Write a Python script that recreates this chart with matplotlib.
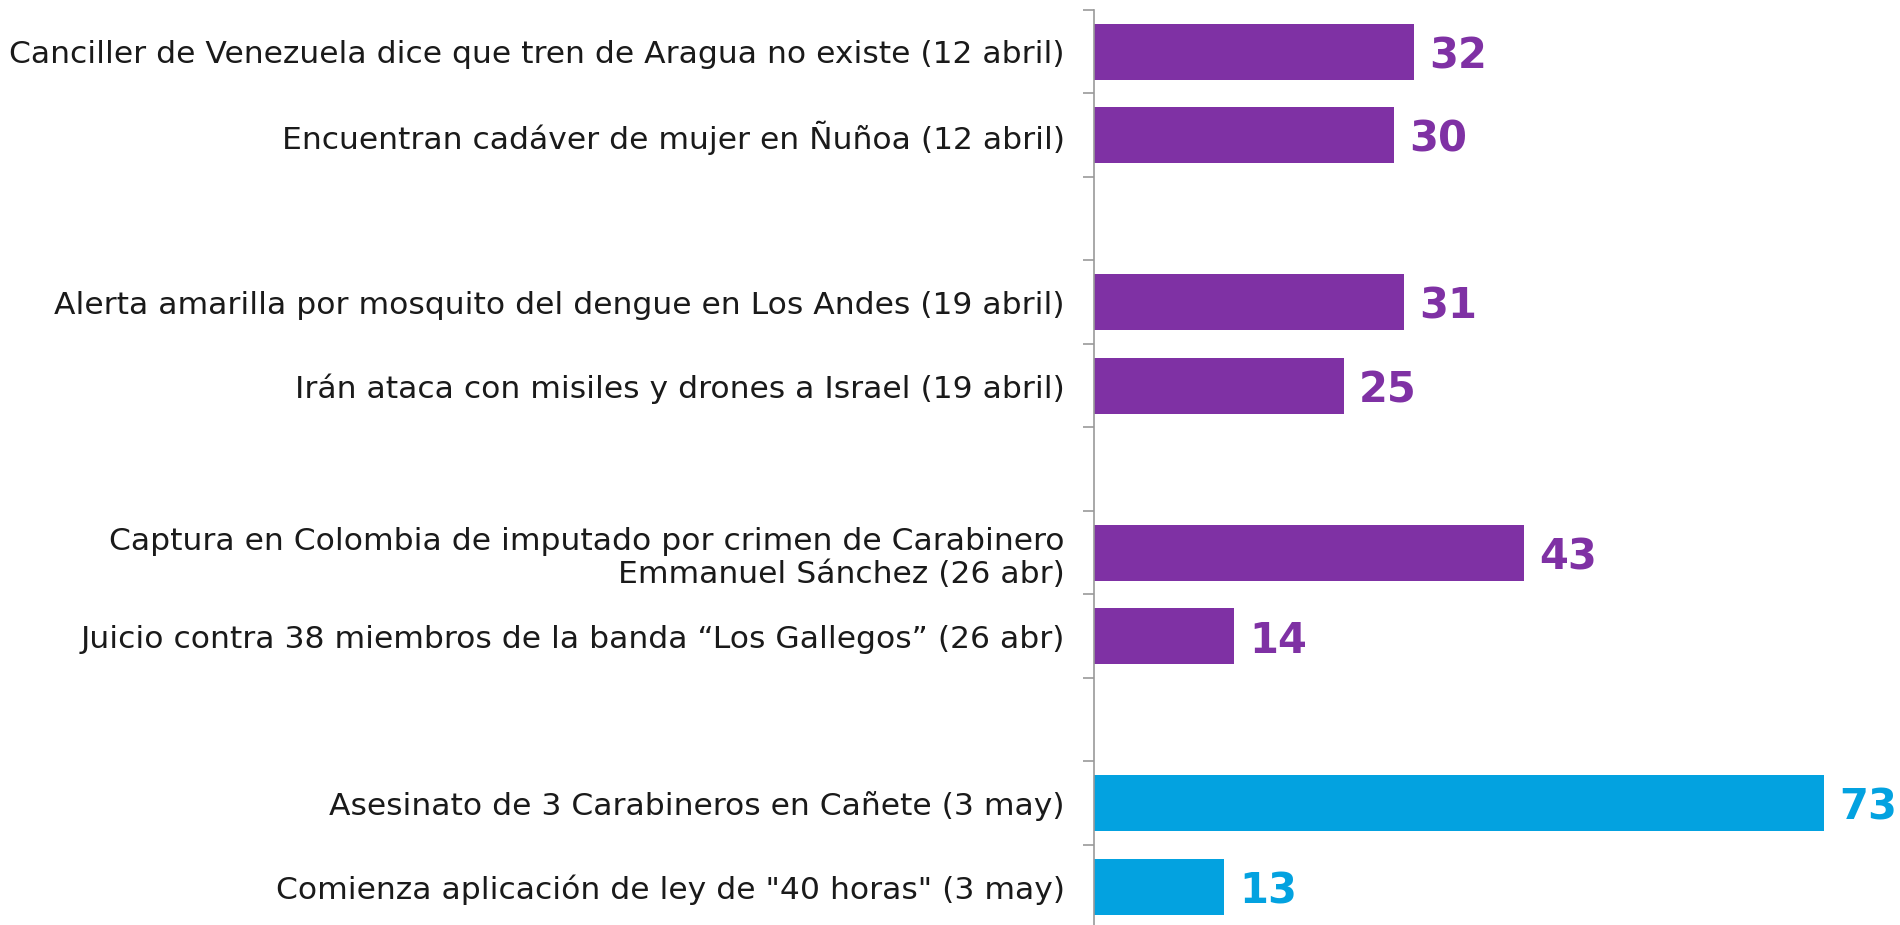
import numpy as np
import matplotlib
matplotlib.use("Agg")
import matplotlib.pyplot as plt

# Categories (top to bottom), None marks the blank spacer rows between weeks
labels = [
    'Canciller de Venezuela dice que tren de Aragua no existe (12 abril)',
    'Encuentran cadáver de mujer en Ñuñoa (12 abril)',
    None,
    'Alerta amarilla por mosquito del dengue en Los Andes (19 abril)',
    'Irán ataca con misiles y drones a Israel (19 abril)',
    None,
    'Captura en Colombia de imputado por crimen de Carabinero\nEmmanuel Sánchez (26 abr)',
    'Juicio contra 38 miembros de la banda “Los Gallegos” (26 abr)',
    None,
    'Asesinato de 3 Carabineros en Cañete (3 may)',
    'Comienza aplicación de ley de "40 horas" (3 may)',
]
values = [32, 30, None, 31, 25, None, 43, 14, None, 73, 13]
highlight = [False, False, None, False, False, None, False, False, None, True, True]

PURPLE = '#7F31A4'
BLUE = '#03A2E0'
TEXT = '#1a1a1a'
FONT = 'DejaVu Sans'

W, H = 1900, 925
fig = plt.figure(figsize=(W / 100, H / 100), dpi=100)
ax_left = 1094 / W
ax_top = 10 / H
ax = fig.add_axes([ax_left, 0, 1 - ax_left, 1 - ax_top])

pos = np.arange(len(labels))
for y, v, hl in zip(pos, values, highlight):
    if v is None:
        continue
    c = BLUE if hl else PURPLE
    ax.barh(y, v, height=0.67, color=c, edgecolor='none')
    ax.text(v + 1.5, y, str(v), va='center_baseline', ha='left', color=c,
            fontsize=30, fontweight='bold', family=FONT)

ax.set_xlim(0, 80.6)
ax.set_ylim(10.46, -0.5)

ax.set_yticks(pos)
ax.set_yticklabels(['' if l is None else l for l in labels],
                   fontsize=22.6, color=TEXT, family=FONT)
ax.tick_params(axis='y', which='major', length=0, pad=21)
ax.set_yticks(np.arange(len(labels)) - 0.5, minor=True)
ax.tick_params(axis='y', which='minor', length=8, width=1.2, color='#999999')
ax.set_xticks([])

for s in ['top', 'right', 'bottom']:
    ax.spines[s].set_visible(False)
ax.spines['left'].set_color('#999999')
ax.spines['left'].set_linewidth(1.2)

fig.savefig('out.png', dpi=100)
